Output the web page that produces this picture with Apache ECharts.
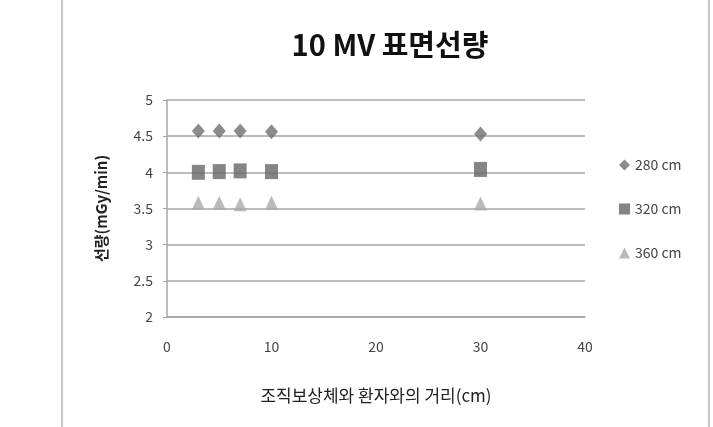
<!DOCTYPE html>
<html>
<head>
<meta charset="utf-8">
<script src="https://cdn.jsdelivr.net/npm/echarts@6/dist/echarts.min.js"></script>
<style>
  html, body { margin: 0; padding: 0; background: #fff; }
  #chart { width: 713px; height: 427px; }
</style>
</head>
<body>
<div id="chart"></div>
<script>
const distances = [3, 5, 7, 10, 30];
const dose280 = [4.57, 4.57, 4.57, 4.56, 4.53];
const dose320 = [4.00, 4.01, 4.02, 4.01, 4.04];
const dose360 = [3.58, 3.58, 3.56, 3.58, 3.57];
const seriesNames = ['280 cm', '320 cm', '360 cm'];
const yTicks = [2, 2.5, 3, 3.5, 4, 4.5, 5];
const xTicks = [0, 10, 20, 30, 40];

const font = '"Noto Sans CJK KR", "Noto Sans", sans-serif';

function pairs(ys) {
    return distances.map((x, i) => [x, ys[i]]);
}

const myChart = echarts.init(document.getElementById('chart'));
const option = {
    backgroundColor: '#fff',
    animation: false,
    title: {
        text: '10 MV 표면선량',
        left: 385,
        top: 25,
        textAlign: 'center',
        textStyle: {fontFamily: font, fontSize: 29, fontWeight: 'bold', color: '#111'}
    },
    legend: {
        orient: 'vertical',
        left: 614,
        top: 153,
        itemGap: 30,
        itemWidth: 11,
        itemHeight: 11,
        data: seriesNames,
        textStyle: {fontFamily: font, fontSize: 14, color: '#444'}
    },
    grid: {left: 167, right: 128, top: 100, bottom: 110},
    xAxis: {
        type: 'value',
        min: xTicks[0],
        max: xTicks[xTicks.length - 1],
        interval: 10,
        name: '조직보상체와 환자와의 거리(cm)',
        nameLocation: 'middle',
        nameGap: 70,
        nameTextStyle: {fontFamily: font, fontSize: 17, color: '#222'},
        axisLine: {lineStyle: {color: '#a6a6a6', width: 1.5}},
        axisTick: {show: false},
        axisLabel: {fontFamily: font, fontSize: 14, color: '#444', margin: 23},
        splitLine: {show: false}
    },
    yAxis: {
        type: 'value',
        min: yTicks[0],
        max: yTicks[yTicks.length - 1],
        interval: 0.5,
        name: '선량(mGy/min)',
        nameLocation: 'middle',
        nameGap: 58,
        nameTextStyle: {fontFamily: font, fontSize: 15, fontWeight: 'bold', color: '#222'},
        axisLine: {show: true, lineStyle: {color: '#a6a6a6', width: 1.5}},
        axisTick: {show: true, length: 4, lineStyle: {color: '#a6a6a6'}},
        axisLabel: {fontFamily: font, fontSize: 14, color: '#444', margin: 14},
        splitLine: {lineStyle: {color: '#a6a6a6', width: 1.5}}
    },
    series: [
        {
            name: seriesNames[0], type: 'scatter', symbol: 'diamond', symbolSize: [13, 15],
            itemStyle: {color: '#6f6f6f'}, data: pairs(dose280)
        },
        {
            name: seriesNames[1], type: 'scatter', symbol: 'rect', symbolSize: [13, 15],
            itemStyle: {color: '#666666'}, data: pairs(dose320)
        },
        {
            name: seriesNames[2], type: 'scatter', symbol: 'triangle', symbolSize: [13, 14],
            itemStyle: {color: '#a9a9a9'}, data: pairs(dose360)
        }
    ],
    graphic: [
        {type: 'line', shape: {x1: 62, y1: 0, x2: 62, y2: 427}, style: {stroke: '#b5b5b5', lineWidth: 1.5}},
        {type: 'line', shape: {x1: 709, y1: 0, x2: 709, y2: 427}, style: {stroke: '#b5b5b5', lineWidth: 1.5}}
    ]
};
myChart.setOption(option);
</script>
</body>
</html>
